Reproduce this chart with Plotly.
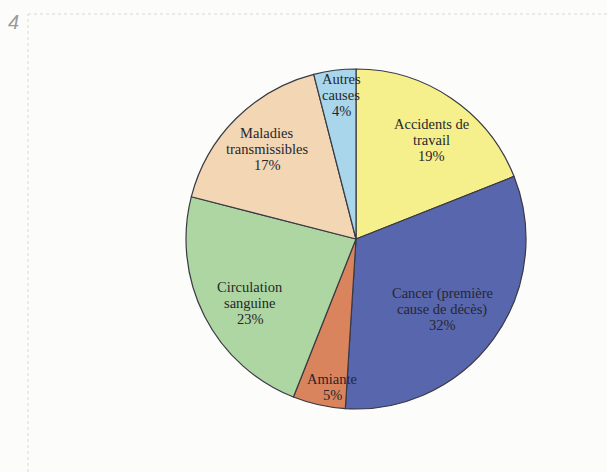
import plotly.graph_objects as go

labels = ["Accidents de travail", "Cancer (première cause de décès)", "Amiante",
          "Circulation sanguine", "Maladies transmissibles", "Autres causes"]
display = [["Accidents de", "travail"], ["Cancer (première", "cause de décès)"], ["Amiante"],
           ["Circulation", "sanguine"], ["Maladies", "transmissibles"], ["Autres", "causes"]]
values = [19, 32, 5, 23, 17, 4]
colors = ["#f6f08c", "#5866ae", "#d9845c", "#aed6a2", "#f3d6b4", "#a9d6ea"]
# label anchor positions (pixel centres)
label_xy = [(431, 140), (442, 309), (332, 387), (250, 303), (267, 149), (341, 95)]

W, H = 607, 472
cx, cy, r = 356, 239, 170
LINE = 16

fig = go.Figure(go.Pie(
    labels=labels, values=values, sort=False, direction="clockwise", rotation=0,
    marker=dict(colors=colors, line=dict(color="#3a3a44", width=1.2)),
    textinfo="none", hoverinfo="label+percent", showlegend=False,
    domain=dict(x=[(cx - r) / W, (cx + r) / W], y=[1 - (cy + r) / H, 1 - (cy - r) / H]),
))

for d, v, (x, y) in zip(display, values, label_xy):
    lines = d + [f"{v}%"]
    n = len(lines)
    for i, t in enumerate(lines):
        yy = y + (i - (n - 1) / 2) * LINE
        fig.add_annotation(x=x / W, y=1 - yy / H, xref="paper", yref="paper",
                           xanchor="center", yanchor="middle",
                           text=t, showarrow=False,
                           font=dict(family="Liberation Serif", size=14.5, color="#26262e"))

fig.add_annotation(x=13 / W, y=1 - 22 / H, xref="paper", yref="paper", text="4",
                   xanchor="center", yanchor="middle", showarrow=False,
                   font=dict(family="Liberation Sans", size=20, color="#9a9a9a", style="italic"))

fig.add_shape(type="line", xref="paper", yref="paper", x0=28 / W, x1=1, y0=1 - 14 / H, y1=1 - 14 / H,
              line=dict(color="#d8d8d8", width=1, dash="dot"))
fig.add_shape(type="line", xref="paper", yref="paper", x0=28 / W, x1=28 / W, y0=0, y1=1 - 14 / H,
              line=dict(color="#d8d8d8", width=1, dash="dot"))

fig.update_layout(width=W, height=H, margin=dict(l=0, r=0, t=0, b=0),
                  paper_bgcolor="#fcfcfa", plot_bgcolor="#fcfcfa")
fig.write_html("out.html")
